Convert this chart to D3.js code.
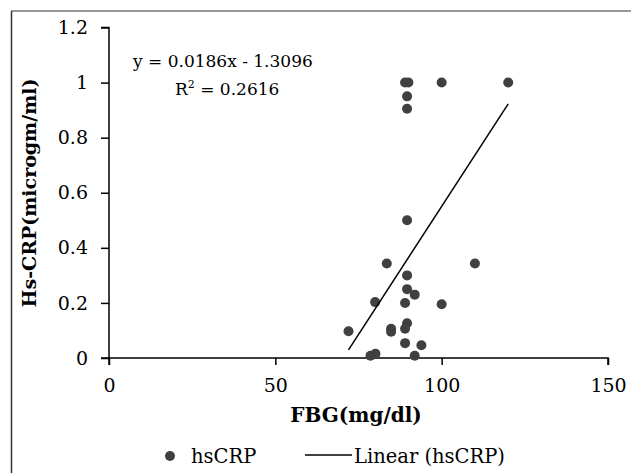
<!DOCTYPE html>
<html>
<meta charset="utf-8">
<head>
<script src="https://d3js.org/d3.v7.min.js"></script>
<style>
  body { margin: 0; background: #fff; }
  text { font-family: "DejaVu Serif", serif; fill: #000; }
</style>
</head>
<body>
<div id="chart"></div>
<script>

// FBG (mg/dl) vs hsCRP (microgm/ml)
var fbg   = [89, 90, 100, 120, 89.6, 89.6, 89.6, 83.5, 110, 89.6, 89.6, 91.9, 80, 89, 100,
             72, 84.8, 84.8, 89.6, 89, 89, 93.9, 78.6, 80.1, 91.9];
var hscrp = [1, 1, 1, 1, 0.95, 0.905, 0.5, 0.343, 0.343, 0.3, 0.25, 0.23, 0.203, 0.2, 0.195,
             0.097, 0.106, 0.095, 0.126, 0.106, 0.054, 0.046, 0.008, 0.015, 0.008];
var slope = 0.0186, intercept = -1.3096;
var xTicks = [0, 50, 100, 150];
var yTicks = [0, 0.2, 0.4, 0.6, 0.8, 1, 1.2];

var W = 631, H = 473;
var svg = d3.select("#chart").append("svg").attr("width", W).attr("height", H);

// outer frame (only top and left visible in the crop)
svg.append("line").attr("x1", 11).attr("y1", 11).attr("x2", W).attr("y2", 11)
    .attr("stroke", "#777").attr("stroke-width", 1.5);
svg.append("line").attr("x1", 11.5).attr("y1", 11).attr("x2", 11.5).attr("y2", H)
    .attr("stroke", "#333").attr("stroke-width", 1.5);

var x = d3.scaleLinear().domain([0, 150]).range([109, 608]);
var y = d3.scaleLinear().domain([0, 1.2]).range([358, 27.5]);

var xAxis = svg.append("g").attr("transform", "translate(0,358)")
    .call(d3.axisBottom(x).tickValues(xTicks).tickSize(7).tickPadding(14).tickFormat(d3.format("d")));
var yAxis = svg.append("g").attr("transform", "translate(109,0)")
    .call(d3.axisLeft(y).tickValues(yTicks).tickSize(8).tickPadding(13).tickFormat(function(d){ return d3.format("")(+d.toFixed(1)); }));

[xAxis, yAxis].forEach(function(a){
  a.selectAll("path, line").attr("stroke", "#000").attr("stroke-width", 1.5);
  a.selectAll("text").style("font-family", "DejaVu Serif").style("font-size", "19px");
});
yAxis.select(".domain").attr("d", "M-8,27.5H0V358H-8");
xAxis.select(".domain").attr("d", "M109,7V0H608V7");

// points
svg.selectAll("circle.pt")
    .data(fbg.map(function(d, i){ return [d, hscrp[i]]; }))
  .enter().append("circle")
    .attr("class", "pt")
    .attr("cx", function(d){ return x(d[0]); })
    .attr("cy", function(d){ return y(d[1]); })
    .attr("r", 5)
    .attr("fill", "#404040");

// trend line over data range
var x0 = d3.min(fbg), x1 = d3.max(fbg);
svg.append("line")
    .attr("x1", x(x0)).attr("y1", y(slope * x0 + intercept))
    .attr("x2", x(x1)).attr("y2", y(slope * x1 + intercept))
    .attr("stroke", "#000").attr("stroke-width", 1.5);

// equation
svg.append("text").attr("x", 133).attr("y", 67).style("font-size", "17px")
    .text("y = 0.0186x - 1.3096");
var r2 = svg.append("text").attr("x", 175).attr("y", 95).style("font-size", "17px");
r2.append("tspan").text("R");
r2.append("tspan").attr("dy", -7).style("font-size", "11px").text("2");
r2.append("tspan").attr("dy", 7).text(" = 0.2616");

// axis titles
svg.append("text").attr("x", 356).attr("y", 422).attr("text-anchor", "middle")
    .style("font-size", "20px").style("font-weight", "bold").text("FBG(mg/dl)");
svg.append("text").attr("transform", "translate(36,193) rotate(-90)").attr("text-anchor", "middle")
    .style("font-size", "19px").style("font-weight", "bold").text("Hs-CRP(microgm/ml)");

// legend
svg.append("circle").attr("cx", 170).attr("cy", 456).attr("r", 5).attr("fill", "#404040");
svg.append("text").attr("x", 191).attr("y", 463).style("font-size", "19.5px").text("hsCRP");
svg.append("line").attr("x1", 305).attr("x2", 352).attr("y1", 455).attr("y2", 455)
    .attr("stroke", "#000").attr("stroke-width", 1.5);
svg.append("text").attr("x", 354).attr("y", 463).style("font-size", "19.5px").text("Linear (hsCRP)");

</script>
</body>
</html>
